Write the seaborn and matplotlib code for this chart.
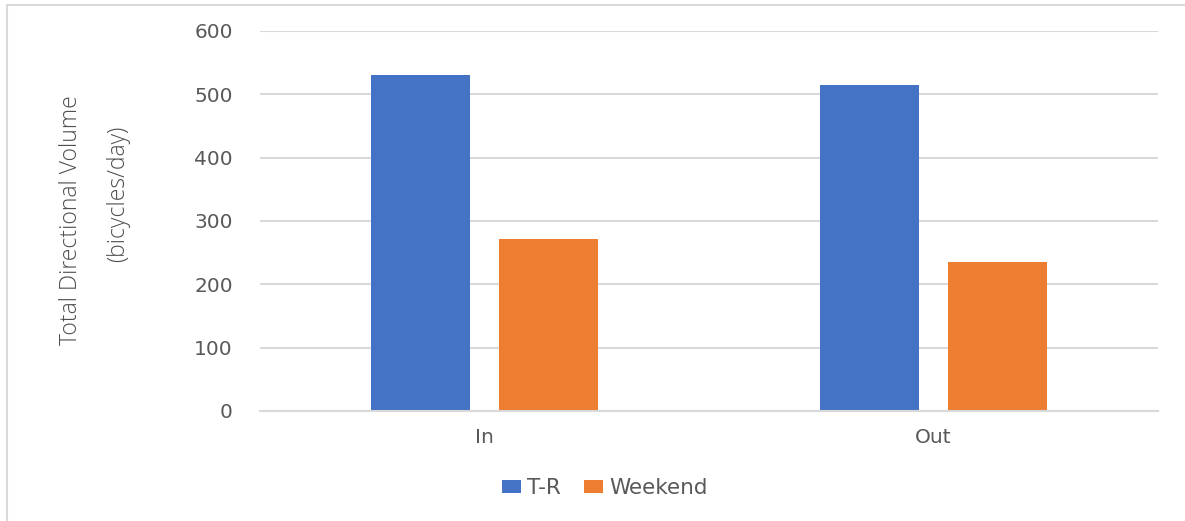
import matplotlib
matplotlib.use("Agg")
import matplotlib.pyplot as plt
from matplotlib.lines import Line2D
from matplotlib.patches import Patch
import seaborn as sns
import pandas as pd

# Directional bicycle volumes
directions = ["In", "Out"]
series = ["T-R", "Weekend"]
tr_values = [530, 514]
weekend_values = [272, 235]
y_ticks = [0, 100, 200, 300, 400, 500, 600]

colors = {"T-R": "#4472C4", "Weekend": "#ED7D31"}
text_gray = "#595959"
grid_gray = "#D9D9D9"

df = pd.DataFrame({
    "Direction": directions * 2,
    "Period": [series[0]] * len(directions) + [series[1]] * len(directions),
    "Volume": tr_values + weekend_values,
})

sns.set_theme(style="white")
plt.rcParams["font.family"] = ["DejaVu Sans"]

W, H = 1185, 521
fig = plt.figure(figsize=(W / 100, H / 100), dpi=100)
ax = fig.add_axes([260 / W, 1 - 411 / H, (1158 - 260) / W, (411 - 31) / H])

sns.barplot(data=df, x="Direction", y="Volume", hue="Period",
            order=directions, hue_order=series, palette=colors,
            width=0.57, gap=0.22, ax=ax, legend=False,
            saturation=1, linewidth=0)

ax.set_ylim(0, 600)
ax.set_yticks(y_ticks)
ax.set_xlim(-0.5, 1.5)
ax.yaxis.grid(True, color=grid_gray, linewidth=1.5)
ax.set_axisbelow(True)
for s in ["top", "right", "left"]:
    ax.spines[s].set_visible(False)
ax.spines["bottom"].set_color(grid_gray)
ax.spines["bottom"].set_linewidth(1.5)
ax.tick_params(axis="both", length=0, labelsize=14.5, colors=text_gray)
ax.tick_params(axis="x", pad=12)
ax.tick_params(axis="y", pad=19.5)
ax.set_xlabel("")
ax.set_ylabel("")

# two-line axis title
label_font = dict(rotation=90, ha="center", va="center", fontsize=16.5,
                  color="#4f4f4f", family=["Open Sans", "DejaVu Sans"],
                  weight="light")
fig.text(71 / W, 1 - 220 / H, "Total Directional Volume", **label_font)
fig.text(118 / W, 1 - 194 / H, "(bicycles/day)", **label_font)

handles = [Patch(facecolor=colors[s], edgecolor="none") for s in series]
fig.legend(handles, series, loc="center", bbox_to_anchor=(605 / W, 1 - 488 / H),
           ncol=2, frameon=False, fontsize=15.5, labelcolor=text_gray,
           handlelength=0.88, handleheight=0.51, handletextpad=0.28,
           columnspacing=1.07, borderpad=0)

# outer chart frame
fig.add_artist(Line2D([7 / W, 7 / W], [0, 1 - 5 / H],
                      transform=fig.transFigure, color=grid_gray, linewidth=1.5))
fig.add_artist(Line2D([7 / W, 1], [1 - 5 / H, 1 - 5 / H],
                      transform=fig.transFigure, color=grid_gray, linewidth=1.5))

fig.savefig("out.png", dpi=100, facecolor="white")
